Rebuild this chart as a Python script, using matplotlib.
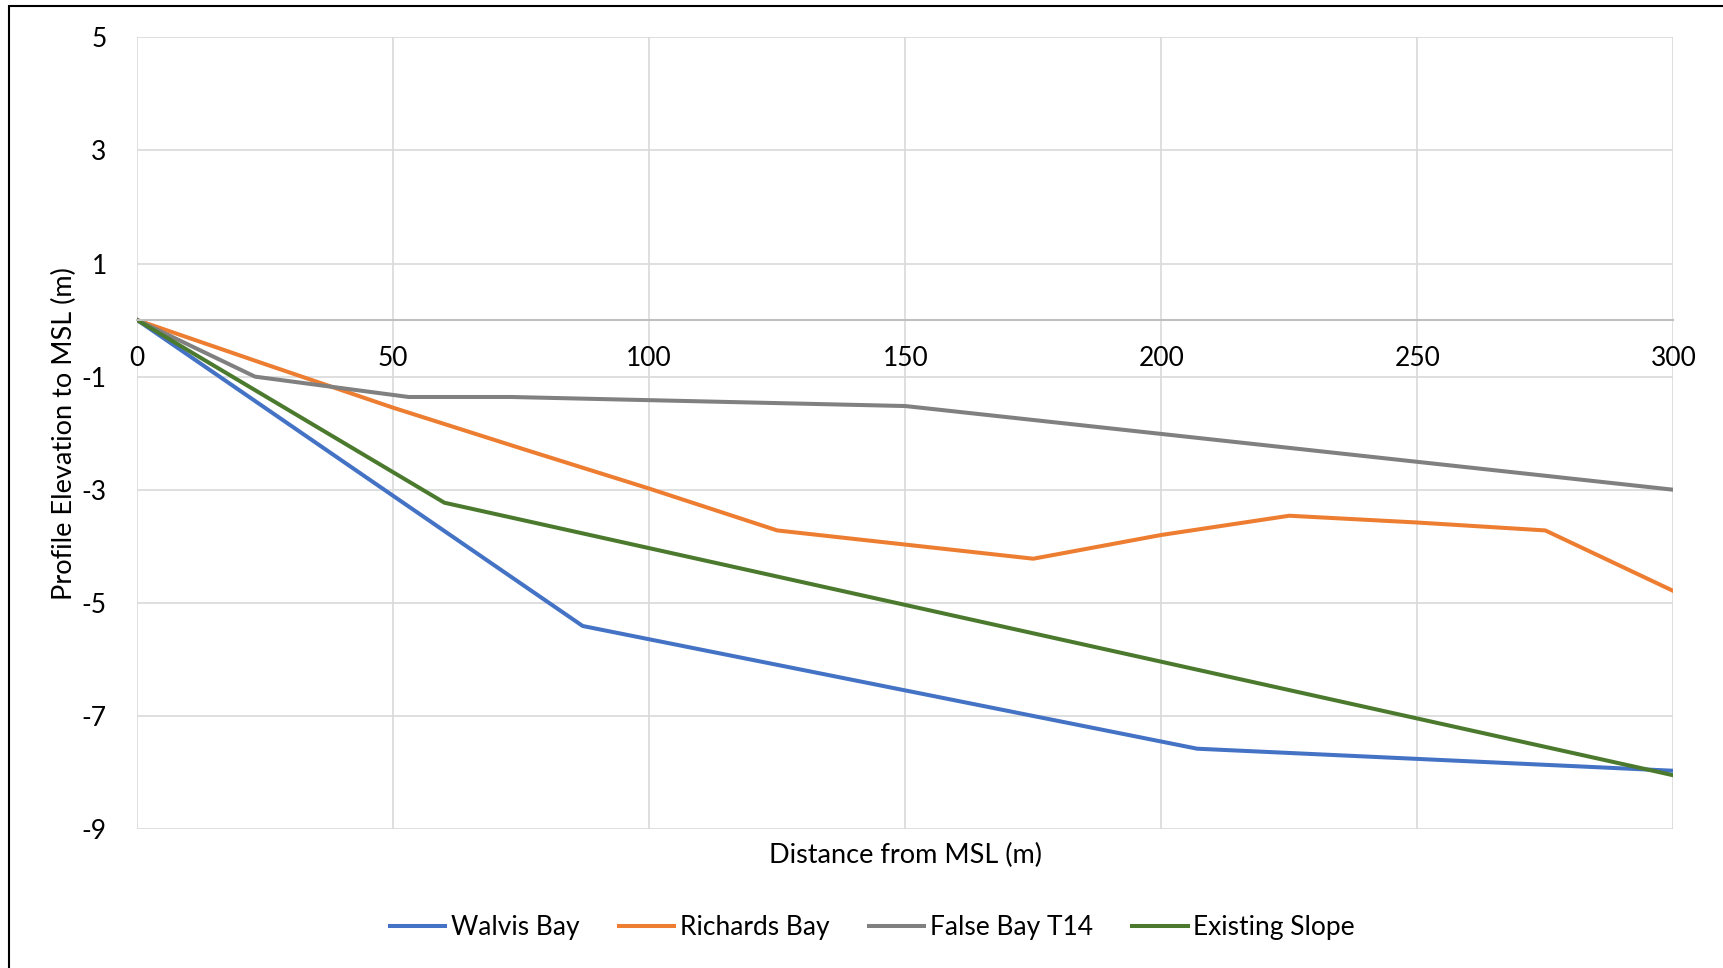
import numpy as np
import matplotlib.pyplot as plt
from matplotlib.patches import Rectangle

plt.rcParams['font.family'] = ['Lato', 'DejaVu Sans']
plt.rcParams['axes.unicode_minus'] = False

# profile data
walvis_x = [0, 87, 207, 300]
walvis_y = [0, -5.41, -7.58, -7.97]

richards_x = [0, 25, 50, 75, 100, 125, 150, 175, 200, 225, 250, 275, 300]
richards_y = [0, -0.78, -1.55, -2.27, -2.98, -3.72, -3.97, -4.22, -3.80, -3.46, -3.58, -3.72, -4.79]

falsebay_x = [0, 23, 53, 73, 150, 300]
falsebay_y = [0, -1.0, -1.36, -1.36, -1.52, -3.0]

existing_x = [0, 60, 300]
existing_y = [0, -3.23, -8.05]

xticks = [0, 50, 100, 150, 200, 250, 300]
yticks = [5, 3, 1, -1, -3, -5, -7, -9]

fig = plt.figure(figsize=(17.24, 9.68), dpi=100)
ax = fig.add_axes([0.0796, 0.1436, 0.891, 0.8178])

lw = 2.9
ax.plot(walvis_x, walvis_y, color='#4472C4', lw=lw, label='Walvis Bay')
ax.plot(richards_x, richards_y, color='#ED7D31', lw=lw, label='Richards Bay')
ax.plot(falsebay_x, falsebay_y, color='#808080', lw=lw, label='False Bay T14')
ax.plot(existing_x, existing_y, color='#4B7A2F', lw=lw, label='Existing Slope')

ax.set_xlim(0, 300)
ax.set_ylim(-9, 5)
ax.set_xticks(xticks)
ax.set_yticks(yticks)
ax.grid(True, color='#d9d9d9', lw=1.2)
ax.set_axisbelow(True)

for s in ['top', 'right', 'left']:
    ax.spines[s].set_visible(False)
ax.spines['bottom'].set_position(('data', 0))
ax.spines['bottom'].set_color('#bfbfbf')
ax.spines['bottom'].set_linewidth(1.5)
ax.tick_params(axis='both', length=0, labelsize=19)
ax.tick_params(axis='x', pad=19)
ax.tick_params(axis='y', pad=22)

ax.set_xlabel('Distance from MSL (m)', fontsize=19.5)
ax.xaxis.set_label_coords(0.5, -0.018)
ax.set_ylabel('Profile Elevation to MSL (m)', fontsize=19.5, labelpad=3)

fig.legend(loc='center', bbox_to_anchor=(0.506, 0.042), ncol=4, frameon=False,
           fontsize=19, handlelength=2.1, handletextpad=0.2, columnspacing=1.5)

# chart frame
fig.patches.append(Rectangle((9/1724, -0.1), 1.2, 1 - 6/968 + 0.1, transform=fig.transFigure,
                             fill=False, edgecolor='black', lw=1.5))

plt.savefig('out.png')
